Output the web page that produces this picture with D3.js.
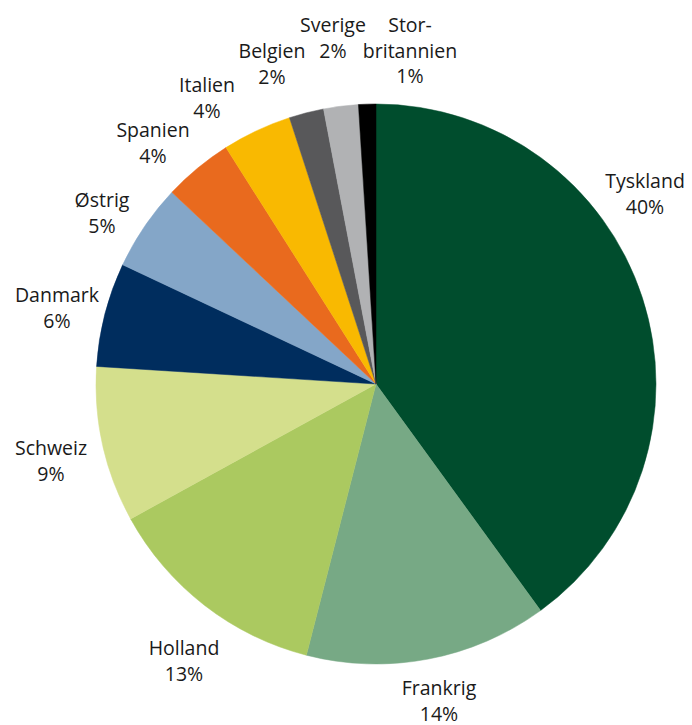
<!DOCTYPE html>
<html>
<head>
<meta charset="utf-8">
<script src="https://cdn.jsdelivr.net/npm/d3@7"></script>
<style>
  body { margin: 0; background: #fff; }
  svg text { font-family: "Open Sans", "Noto Sans", sans-serif; font-size: 19.5px; fill: #1a1a1a; }
</style>
</head>
<body>
<svg id="chart" width="692" height="725"></svg>
<script>
// data
const countries = ['Tyskland', 'Frankrig', 'Holland', 'Schweiz', 'Danmark', 'Østrig', 'Spanien', 'Italien', 'Belgien', 'Sverige', 'Storbritannien'];
const shares = [40, 14, 13, 9, 6, 5, 4, 4, 2, 2, 1];
const labelLines = [['Tyskland'], ['Frankrig'], ['Holland'], ['Schweiz'], ['Danmark'], ['Østrig'], ['Spanien'], ['Italien'], ['Belgien'], ['Sverige'], ['Stor-', 'britannien']];
const colors = ['#004d2d', '#77a985', '#abc960', '#d4df8c', '#002d5e', '#84a6c8', '#e96a1e', '#f9b901', '#58585a', '#b1b2b4', '#000000'];

// label anchors (centre x, first baseline y) -- placed by hand like the original
const labelAnchor = [[645, 188], [439, 695], [184, 655], [51, 455], [57, 302], [102, 207], [153, 137], [207, 92], [272, 58], [333, 32], [410, 32]];
const lineHeight = 25.5;

const width = 692, height = 725;
const cx = 376, cy = 384, radius = 280;

const svg = d3.select('#chart');

const pie = d3.pie().sort(null).value(d => d)
  .startAngle(0).endAngle(2 * Math.PI);

const arc = d3.arc().innerRadius(0).outerRadius(radius);

const g = svg.append('g').attr('transform', `translate(${cx},${cy})`);

g.selectAll('path')
  .data(pie(shares))
  .enter()
  .append('path')
  .attr('d', arc)
  .attr('fill', (d, i) => colors[i])
  .attr('stroke', (d, i) => colors[i])
  .attr('stroke-width', 0.5);

// labels
const labels = svg.append('g').attr('class', 'labels');
countries.forEach((c, i) => {
  const lines = labelLines[i].concat([shares[i] + '%']);
  const t = labels.append('text')
    .attr('text-anchor', 'middle')
    .attr('x', labelAnchor[i][0])
    .attr('y', labelAnchor[i][1]);
  lines.forEach((l, j) => {
    t.append('tspan')
      .attr('x', labelAnchor[i][0])
      .attr('dy', j === 0 ? 0 : lineHeight)
      .text(l);
  });
});
</script>
</body>
</html>
